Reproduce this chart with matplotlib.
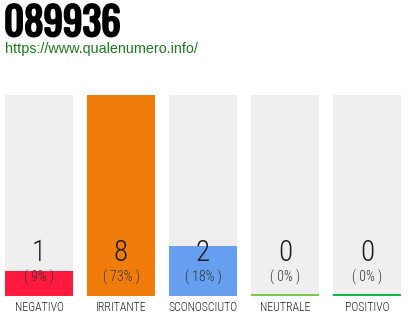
import matplotlib
matplotlib.use("Agg")
import matplotlib.pyplot as plt
import matplotlib.transforms as mtransforms
import matplotlib.patheffects as pe

title = "089936"
url = "https://www.qualenumero.info/"
categories = ["NEGATIVO", "IRRITANTE", "SCONOSCIUTO", "NEUTRALE", "POSITIVO"]
counts = [1, 8, 2, 0, 0]
percents = ["9%", "73%", "18%", "0%", "0%"]
colors = ["#ff1a3d", "#f07d0b", "#669ff0", "#7dcb4a", "#13b74a"]
ymax = 8

W, H = 410, 320
fig = plt.figure(figsize=(W / 100, H / 100), dpi=100)
fig.patch.set_facecolor("white")

cond = ["Roboto Condensed", "DejaVu Sans"]
heavy = ["Oswald", "Roboto Condensed", "DejaVu Sans"]

left_px, right_px, top_px, bot_px = 5, 401, 95, 296
ax = fig.add_axes([left_px / W, (H - bot_px) / H, (right_px - left_px) / W, (bot_px - top_px) / H])
ax.set_axis_off()

step = 82.0
bw = 68.0 / step
x = list(range(len(categories)))
ax.set_xlim(-bw / 2, len(categories) - 1 + bw / 2)
ax.set_ylim(0, ymax)

ax.bar(x, [ymax] * len(x), width=bw, color="#efefef", align="center", linewidth=0)
for i, (c, col) in enumerate(zip(counts, colors)):
    h = c if c > 0 else 0.07
    ax.bar(i, h, width=bw, color=col, linewidth=0)

trans = mtransforms.blended_transform_factory(ax.transData, ax.transAxes)
for i in x:
    ax.text(i, 0.212, str(counts[i]), transform=trans, ha="center", va="center",
            fontsize=21, family=cond, fontweight="light", color="#1a1a1a")
    ax.text(i, 0.094, "( " + percents[i] + " )", transform=trans, ha="center", va="center",
            fontsize=10, family=cond, fontweight="light", color="#333333")
    ax.text(i, -0.058, categories[i], transform=trans, ha="center", va="center",
            fontsize=8.6, family=cond, fontweight="light", color="#222222")

fig.text(4 / W, 1 - 4 / H, title, ha="left", va="top", fontsize=28, fontweight="bold",
         family=heavy, color="#000000",
         path_effects=[pe.withStroke(linewidth=1.6, foreground="#000000")])
fig.text(5 / W, 1 - 49 / H, url, ha="left", va="center", fontsize=10.4,
         family=["Liberation Sans", "DejaVu Sans"], color="#1b7a1b")

fig.savefig("out.png", dpi=100, facecolor="white")
